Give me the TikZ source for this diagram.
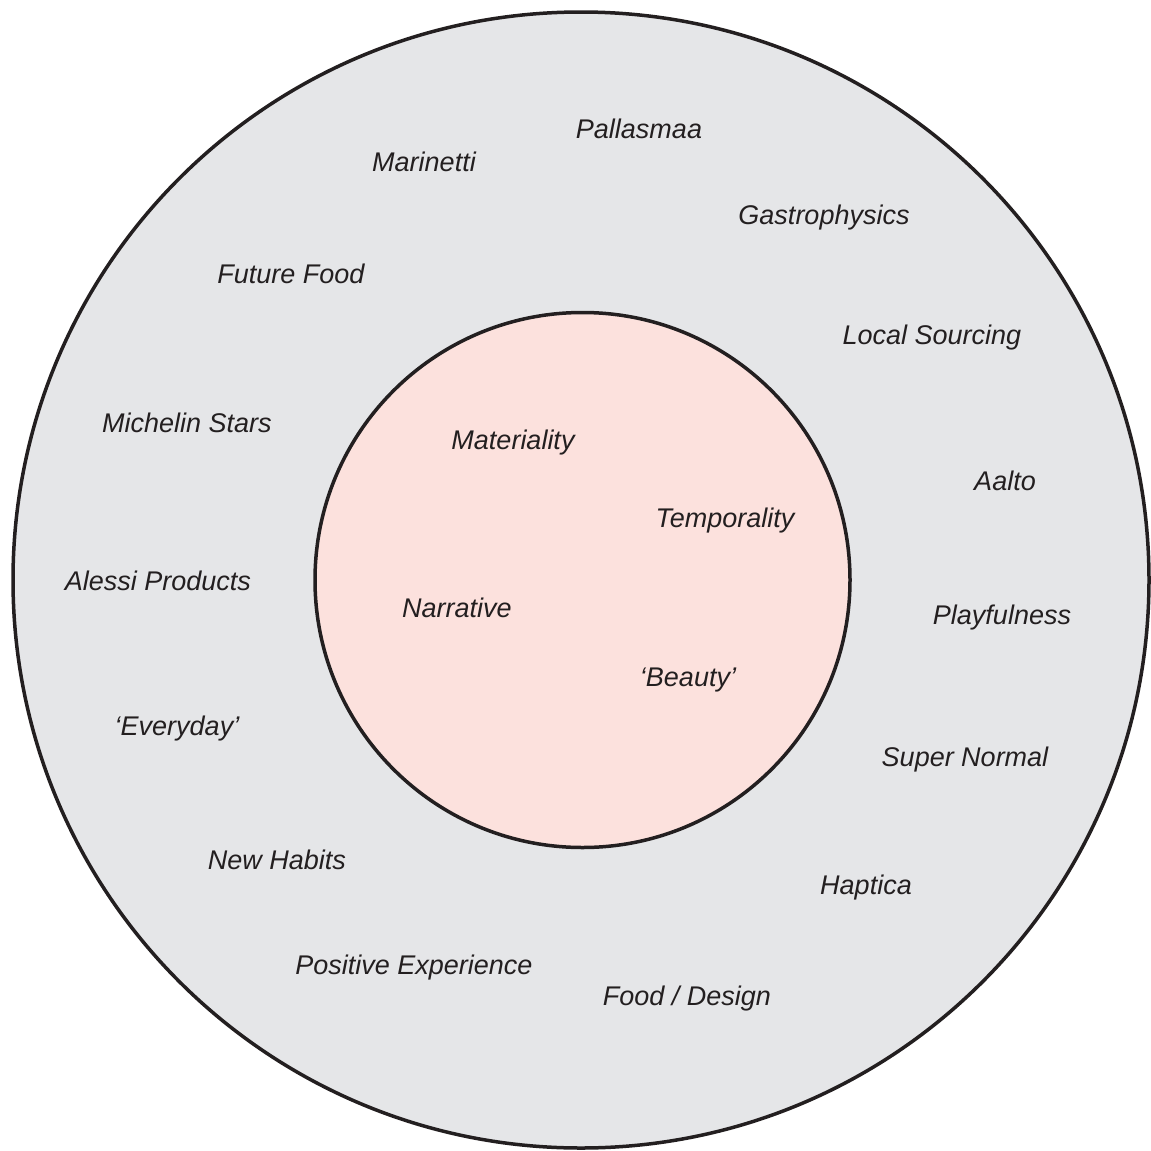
\documentclass[tikz,border=0pt]{standalone}
\usepackage{fontspec}
\setmainfont{Liberation Sans}
\definecolor{outerfill}{HTML}{E5E6E8}
\definecolor{innerfill}{HTML}{FCE1DD}
\definecolor{ink}{HTML}{231F20}
\begin{document}
\begin{tikzpicture}[x=1pt,y=-1pt,
  ring/.style={draw=ink,line width=3.5pt},
  lbl/.style={font=\fontsize{27}{32}\selectfont\itshape,text=ink,inner sep=0pt}]
\useasboundingbox (0,0) rectangle (1151,1151);
\node[ring,circle,fill=outerfill,minimum size=1136pt,inner sep=0pt] (outer) at (581,580) {};
\node[ring,circle,fill=innerfill,minimum size=535pt,inner sep=0pt] (inner) at (582.5,580) {};
\node[lbl] (pallasmaa) at (639,129) {Pallasmaa};
\node[lbl] (marinetti) at (424,162) {Marinetti};
\node[lbl] (gastro) at (824,218) {Gastrophysics};
\node[lbl] (future) at (291,274) {Future Food};
\node[lbl] (local) at (932,338) {Local Sourcing};
\node[lbl] (michelin) at (187,423) {Michelin Stars};
\node[lbl] (materiality) at (513,443) {Materiality};
\node[lbl] (aalto) at (1005,481) {Aalto};
\node[lbl] (temporality) at (725,521) {Temporality};
\node[lbl] (alessi) at (158,581) {Alessi Products};
\node[lbl] (narrative) at (457,608) {Narrative};
\node[lbl] (playful) at (1002,618) {Playfulness};
\node[lbl] (beauty) at (688,680) {‘Beauty’};
\node[lbl] (everyday) at (177,729) {‘Everyday’};
\node[lbl] (supernormal) at (965,760) {Super Normal};
\node[lbl] (newhabits) at (277,860) {New Habits};
\node[lbl] (haptica) at (866,888) {Haptica};
\node[lbl] (positive) at (414,968) {Positive Experience};
\node[lbl] (fooddesign) at (687,999) {Food / Design};
\end{tikzpicture}
\end{document}
